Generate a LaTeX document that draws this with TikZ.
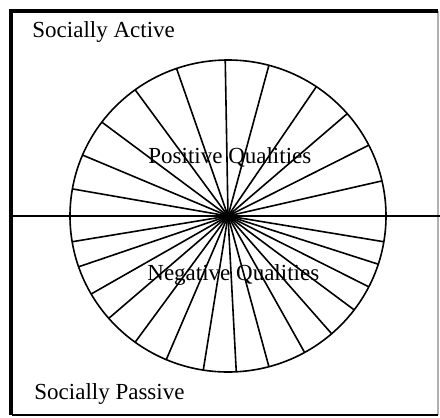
\documentclass[tikz,border=0pt]{standalone}
\usepackage{fontspec}
\setmainfont{Liberation Serif}

\begin{document}
\begin{tikzpicture}[x=0.5pt, y=-0.5pt,
    label/.style={anchor=base west, inner sep=0pt, font=\fontsize{11.5}{14}\selectfont},
    spoke/.style={line width=0.8pt}]

    \definecolor{borderColour}{HTML}{000000}
    \definecolor{edgeColour}{HTML}{B0B0B0}

    \useasboundingbox (0,0) rectangle (440,418);

    % Draw frame
    \draw[edgeColour, line width=0.6pt] (12,12) -- (438,12) -- (438,415);
    \draw[borderColour, line width=1pt] (12,415) -- (438,415);
    \draw[borderColour, line width=1.6pt] (438,11) -- (11,11) -- (11,415);

    % Define the hub of the wheel
    \coordinate (hub) at (228,216);

    % Draw the dividing axis
    \draw[spoke] (12,216) -- (440,216);

    % Draw the rim
    \draw[spoke] (hub) ellipse [x radius=158, y radius=156];

    % Draw spokes of the upper half
    \foreach \angle in {13,27,41,56,75,91,109,126,143,157,170}
        \draw[spoke] (hub) -- ([shift={(hub)}]-\angle:158 and 156);

    % Draw spokes of the lower half
    \foreach \angle in {189.5,199,210,221,234,247,261,273,285,299,311,323,333,342,350.5}
        \draw[spoke] (hub) -- ([shift={(hub)}]-\angle:158 and 156);

    % Label the quarters
    \node[label] (active) at (32,37) {Socially Active};
    \node[label] (passive) at (34,399) {Socially Passive};
    \node[label] (positive) at (148,163) {Positive Qualities};
    \node[label] (negative) at (147,280) {Negative Qualities};

\end{tikzpicture}
\end{document}
